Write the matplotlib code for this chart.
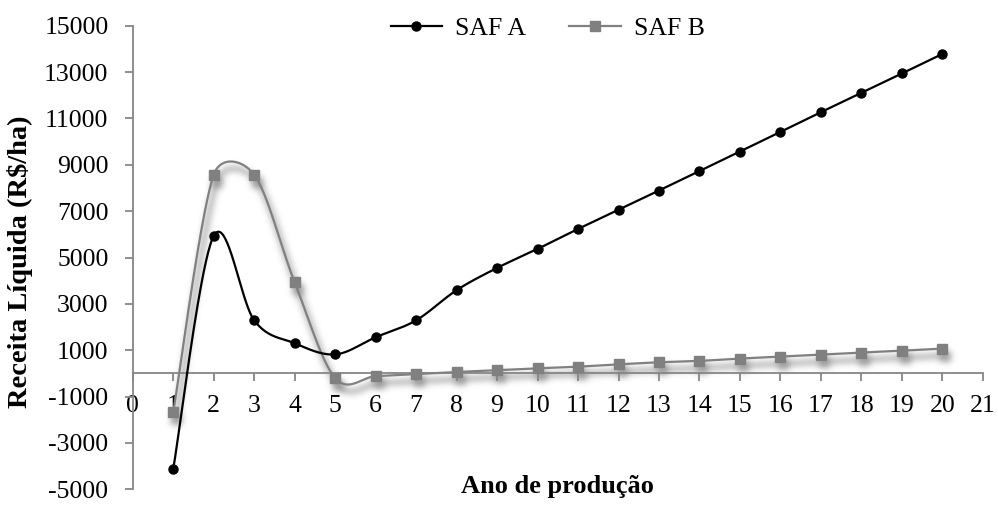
import numpy as np
import matplotlib
matplotlib.use("Agg")
import matplotlib.pyplot as plt

# Receita líquida anual (R$/ha) dos dois sistemas agroflorestais
anos = list(range(1, 21))
saf_a = [-4130, 5930, 2290, 1300, 820, 1560, 2290, 3590, 4550, 5370,
         6230, 7060, 7890, 8730, 9570, 10420, 11270, 12100, 12940, 13780]
saf_b = [-1680, 8570, 8570, 3930, -200, -120, -30, 60, 140, 220,
         290, 390, 480, 540, 640, 720, 810, 900, 980, 1070]

x_ticks = list(range(0, 22))
y_ticks = list(range(-5000, 15001, 2000))

cor_a = "black"
cor_b = "#808080"
cor_eixo = "#868686"


def excel_smooth(x, y, sx, sy, n=40):
    # curva suavizada no estilo do Excel (Bezier com tangentes limitadas)
    p = np.column_stack([np.asarray(x, float) * sx, np.asarray(y, float) * sy])
    pts = [p[0]]
    t = np.linspace(0, 1, n)[1:, None]
    for i in range(len(p) - 1):
        p0 = p[i - 1] if i > 0 else p[i]
        p1, p2 = p[i], p[i + 1]
        p3 = p[i + 2] if i + 2 < len(p) else p[i + 1]
        d12 = np.hypot(*(p2 - p1))
        d02 = np.hypot(*(p2 - p0))
        d13 = np.hypot(*(p3 - p1))
        f1 = 1 / 6 if d02 / 6 < d12 / 2 else d12 / d02 / 2
        f2 = 1 / 6 if d13 / 6 < d12 / 2 else d12 / d13 / 2
        c1 = p1 + f1 * (p2 - p0)
        c2 = p2 - f2 * (p3 - p1)
        seg = ((1 - t) ** 3 * p1 + 3 * (1 - t) ** 2 * t * c1
               + 3 * (1 - t) * t ** 2 * c2 + t ** 3 * p2)
        pts.extend(seg)
    pts = np.array(pts)
    return pts[:, 0] / sx, pts[:, 1] / sy


def drop_shadow(im, dpi, sigma=3.2, offset=(3, -7), alpha=0.5):
    pad = int(3 * sigma + max(abs(o) for o in offset)) + 1
    a = np.pad(im[:, :, 3], pad)
    r = int(3 * sigma)
    xs = np.arange(-r, r + 1)
    kern = np.exp(-xs ** 2 / (2 * sigma ** 2))
    kern /= kern.sum()
    a = np.apply_along_axis(lambda v: np.convolve(v, kern, "same"), 0, a)
    a = np.apply_along_axis(lambda v: np.convolve(v, kern, "same"), 1, a)
    a = np.roll(a, offset[0], axis=1)
    a = np.roll(a, -offset[1], axis=0)
    out = np.zeros(a.shape + (4,))
    out[..., :3] = 0.4
    out[..., 3] = np.clip(a * alpha, 0, 1)
    return out, -pad, -pad


plt.rcParams["font.family"] = ["Liberation Serif", "DejaVu Serif"]
plt.rcParams["axes.unicode_minus"] = False
fs = 18.5

fig = plt.figure(figsize=(9.98, 5.07), dpi=100)
ax = fig.add_axes([0.133, 0.0349, 0.8518, 0.9144])
ax.set_xlim(0, 21)
ax.set_ylim(-5000, 15000)

# escala em pixels para a suavização
bbox = ax.get_window_extent()
sx = bbox.width / 21
sy = bbox.height / 20000

xa, ya = excel_smooth(anos, saf_a, sx, sy)
xb, yb = excel_smooth(anos, saf_b, sx, sy)

# sombra do SAF B
sh, = ax.plot(xb, yb, color="black", lw=4, zorder=1)
sh.set_agg_filter(drop_shadow)
sh.set_rasterized(True)
shm, = ax.plot(anos, saf_b, ls="none", marker="s", ms=7, color="black", zorder=1)
shm.set_agg_filter(drop_shadow)
shm.set_rasterized(True)

ax.plot(xb, yb, color=cor_b, lw=1.6, zorder=3)
ax.plot(anos, saf_b, ls="none", marker="s", ms=6.5, color=cor_b, zorder=3)
ax.plot(xa, ya, color=cor_a, lw=1.6, zorder=4)
ax.plot(anos, saf_a, ls="none", marker="o", ms=6.5, color=cor_a, zorder=4)

# entradas da legenda
ax.plot([], [], color=cor_a, lw=1.6, marker="o", ms=6.5, label="SAF A")
ax.plot([], [], color=cor_b, lw=1.6, marker="s", ms=6.5, label="SAF B")
ax.legend(loc="center", bbox_to_anchor=(0.488, 0.993), ncol=2, frameon=False,
          fontsize=fs, handlelength=2.0, handletextpad=0.5, columnspacing=1.7)

for s in ["top", "right"]:
    ax.spines[s].set_visible(False)
ax.spines["bottom"].set_position(("data", 0))
for s in ["left", "bottom"]:
    ax.spines[s].set_color(cor_eixo)
    ax.spines[s].set_linewidth(1.3)
    ax.spines[s].set_zorder(2)

ax.set_xticks(x_ticks)
ax.set_yticks(y_ticks)
ax.tick_params(axis="both", direction="out", length=5.5, width=1.3,
               color=cor_eixo, labelsize=fs, labelcolor="black")
ax.tick_params(axis="x", pad=10)
ax.tick_params(axis="y", pad=12)

ax.set_ylabel("Receita Líquida (R\\$/ha)", fontsize=20.5, fontweight="bold")
ax.yaxis.set_label_coords(-0.117, 0.49)
ax.set_xlabel("Ano de produção", fontsize=19, fontweight="bold", va="top")
ax.xaxis.set_label_coords(0.5, 0.03)

fig.savefig("out.png", dpi=100)
